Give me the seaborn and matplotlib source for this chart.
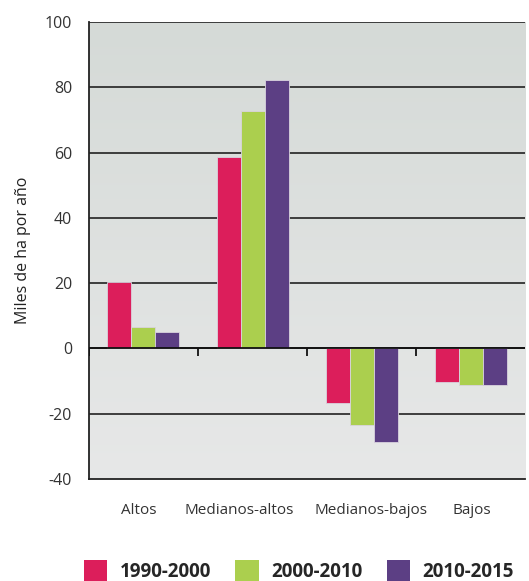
import numpy as np
import pandas as pd
import matplotlib
matplotlib.use("Agg")
import matplotlib.pyplot as plt
import matplotlib.transforms as mtransforms
import seaborn as sns
from matplotlib.patches import Patch

# ---------------------------------------------------------
# DATA
# ---------------------------------------------------------
categories = ["Altos", "Medianos-altos", "Medianos-bajos", "Bajos"]
periods = ["1990-2000", "2000-2010", "2010-2015"]
vals_1990_2000 = [20.3, 58.6, -16.7, -10.3]
vals_2000_2010 = [6.5, 72.7, -23.4, -11.2]
vals_2010_2015 = [5.0, 82.2, -28.7, -11.2]
colors = ["#DC1E5B", "#ABCF4E", "#5C3F84"]
y_ticks = [-40, -20, 0, 20, 40, 60, 80, 100]

df = pd.DataFrame({
    "cat": categories * 3,
    "val": vals_1990_2000 + vals_2000_2010 + vals_2010_2015,
    "period": [p for p in periods for _ in categories],
})

# ---------------------------------------------------------
# PLOT
# ---------------------------------------------------------
sns.set_theme(style="white")
plt.rcParams["font.family"] = ["Open Sans", "DejaVu Sans"]
plt.rcParams["axes.unicode_minus"] = False

fig = plt.figure(figsize=(5.29, 5.81), dpi=100)
ax = fig.add_axes([0.168, 0.1756, 0.825, 0.7866])

# gradient background (darker at top)
grad = np.linspace(0, 1, 256).reshape(-1, 1)
cmap = matplotlib.colors.LinearSegmentedColormap.from_list("bg", ["#D5DAD7", "#E7E8E8"])
ax.imshow(grad, extent=(-0.5, 3.5, -40, 100), origin="upper", aspect="auto",
          cmap=cmap, zorder=0)

for y in y_ticks[1:]:
    ax.axhline(y, color="#222222", lw=1.2, zorder=1)

sns.barplot(data=df, x="cat", y="val", hue="period", palette=colors,
            saturation=1, width=0.66, gap=0, edgecolor="#d9d3de", linewidth=0.6,
            legend=False, ax=ax, zorder=2)

ax.axhline(0, color="#111111", lw=1.3, zorder=3)
ax.vlines(np.arange(len(categories)) - 0.5, -2.2, 0, color="#111111", lw=1.3, zorder=3)

ax.set_xlim(-0.5, 3.5)
ax.set_ylim(-40, 100)
ax.set_yticks(y_ticks)
ax.set_xlabel("")
ax.set_ylabel("Miles de ha por año", fontsize=11.5, color="#222222", labelpad=10)
ax.tick_params(axis="y", length=0, pad=12, labelsize=11.5, labelcolor="#333333")
ax.tick_params(axis="x", length=0, pad=17, labelsize=11, labelcolor="#333333")

# category labels sit slightly off-centre in the original
label_shift_px = [-5, -13, 9, 1]
for lbl, dx in zip(ax.get_xticklabels(), label_shift_px):
    lbl.set_transform(lbl.get_transform() + mtransforms.ScaledTranslation(dx / 100, 0, fig.dpi_scale_trans))

for s in ["left", "bottom"]:
    ax.spines[s].set_color("#222222")
    ax.spines[s].set_linewidth(1.3)
ax.spines["right"].set_visible(False)
ax.spines["top"].set_visible(False)

handles = [Patch(facecolor=c, edgecolor="none") for c in colors]
fig.legend(handles, periods, loc="lower center", bbox_to_anchor=(0.565, -0.032),
           ncol=3, frameon=False, handlelength=1.25, handleheight=1.5,
           columnspacing=1.3, handletextpad=0.65,
           prop={"weight": "bold", "size": 13.5})

plt.savefig("out.png", dpi=100)
plt.close()
